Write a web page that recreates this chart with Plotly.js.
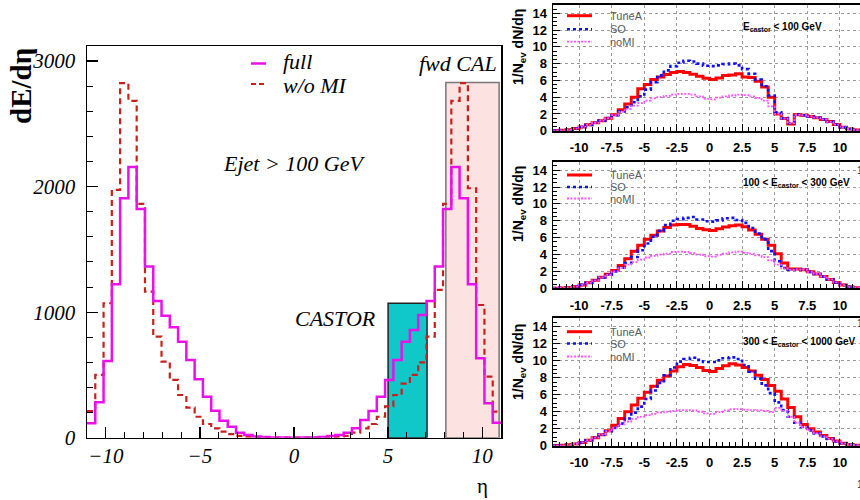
<!DOCTYPE html>
<html><head><meta charset="utf-8">
<script src="https://cdn.plot.ly/plotly-3.0.1.min.js"></script>
<style>html,body{margin:0;padding:0;background:#fff}#chart{width:860px;height:500px}</style>
</head><body><div id="chart"></div>
<script>
// ---------- Left panel: dE/dη, 50 bins from -11 to 11 ----------
const leftEtaMin = -11, leftEtaMax = 11, leftNBins = 50;
const fullE = [115,282,611,1222,1907,2157,1822,1363,1089,972,880,765,619,465,327,215,135,88,40,21,10,5,2,1,0,0,1,2,5,14,22,40,75,141,212,327,460,619,765,858,978,1089,1363,1822,2157,1907,1222,633,274,120];
const woMIE = [212,500,1071,1974,2824,2683,1862,1163,805,606,460,340,239,167,109,75,48,29,15,8,4,2,1,0,0,0,0,1,2,4,8,15,40,75,109,167,249,340,430,500,600,805,1177,1862,2683,2824,1987,1057,486,207];
const castorEta = [5.0, 7.07], castorTop = 1070;
const fwdEta = [8.07, 10.9], fwdTop = 2830;
const leftXTicks = [-10, -5, 0, 5, 10];

// ---------- Right panels: 1/Nev dN/dη, 48 bins of 0.5 from -12 to 12 ----------
const rightEtaMin = -12, rightBinW = 0.5, rightNBins = 48;
const rightXTickVals = [-10,-7.5,-5,-2.5,0,2.5,5,7.5,10];
const rightXTickText = ["-10","-7.5","-5","-2.5","0","2.5","5","7.5","10"];
const tuneA1 = [0.02,0.05,0.1,0.25,0.45,0.7,0.95,1.2,1.5,1.9,2.5,3.2,4.0,5.0,5.5,6.1,6.4,6.7,6.95,7.05,6.95,6.75,6.5,6.25,6.1,6.3,6.6,6.65,6.8,6.4,6.35,5.9,5.2,4.0,2.0,1.45,0.8,1.9,1.85,1.7,1.55,1.35,1.1,0.75,0.4,0.2,0.08,0.02];
const so1    = [0.02,0.05,0.1,0.25,0.45,0.7,0.95,1.2,1.5,1.85,2.3,2.8,3.4,4.1,4.9,5.8,6.6,7.2,7.7,8.1,8.35,8.25,8.0,7.75,7.7,7.8,7.95,8.0,7.8,7.35,6.8,6.1,5.3,4.2,2.2,1.5,0.9,1.95,1.85,1.7,1.55,1.35,1.05,0.72,0.4,0.2,0.08,0.02];
const noMI1  = [0.02,0.05,0.1,0.25,0.45,0.7,0.95,1.2,1.5,1.85,2.25,2.6,3.0,3.3,3.6,3.85,4.0,4.15,4.3,4.4,4.4,4.3,4.1,3.8,3.75,3.95,4.1,4.2,4.3,4.25,4.1,3.9,3.6,2.9,2.0,1.45,0.9,1.9,1.85,1.7,1.55,1.35,1.05,0.72,0.4,0.2,0.08,0.02];
const tuneA2 = [0.02,0.05,0.1,0.2,0.4,0.65,0.95,1.3,1.65,2.1,2.7,3.5,4.4,5.1,5.8,6.3,6.8,7.2,7.5,7.55,7.55,7.35,7.1,6.95,6.85,7.05,7.25,7.4,7.5,7.3,6.9,6.4,5.8,5.1,4.1,3.0,2.3,2.3,2.2,1.95,1.7,1.4,1.05,0.7,0.38,0.18,0.07,0.02];
const so2    = [0.02,0.05,0.1,0.2,0.4,0.65,0.95,1.3,1.6,2.0,2.45,3.0,3.7,4.5,5.3,6.1,6.8,7.5,8.0,8.2,8.35,8.45,8.15,7.95,7.9,8.05,8.3,8.35,8.1,7.75,7.15,6.5,5.8,4.4,3.2,2.4,2.2,2.25,2.2,1.95,1.7,1.4,1.05,0.7,0.38,0.18,0.07,0.02];
const noMI2  = [0.02,0.05,0.1,0.2,0.4,0.65,0.95,1.3,1.6,2.0,2.4,2.8,3.1,3.4,3.65,3.85,4.0,4.1,4.3,4.35,4.3,4.15,4.0,3.8,3.75,3.95,4.1,4.25,4.35,4.2,4.1,3.9,3.7,3.3,2.8,2.35,2.2,2.25,2.2,1.95,1.7,1.4,1.05,0.7,0.38,0.18,0.07,0.02];
const tuneA3 = [0.02,0.05,0.1,0.2,0.38,0.65,0.95,1.3,1.75,2.4,3.2,4.0,4.8,5.6,6.3,7.0,7.7,8.2,8.8,9.3,9.55,9.45,9.2,8.85,8.75,9.1,9.4,9.65,9.5,9.2,8.8,8.3,7.8,7.1,6.4,5.5,4.5,3.4,2.5,2.0,1.6,1.2,0.85,0.55,0.3,0.15,0.06,0.02];
const so3    = [0.02,0.05,0.1,0.2,0.38,0.65,0.95,1.3,1.7,2.1,2.6,3.2,3.9,4.6,5.5,6.5,7.4,8.3,9.2,9.9,10.2,10.35,10.1,9.85,9.85,10.05,10.3,10.4,10.2,9.5,8.7,7.9,7.1,6.2,5.1,4.2,3.4,2.7,2.2,1.8,1.45,1.1,0.8,0.5,0.28,0.14,0.06,0.02];
const noMI3  = [0.02,0.05,0.1,0.2,0.38,0.65,0.95,1.3,1.7,2.1,2.5,2.85,3.15,3.4,3.6,3.75,3.9,4.0,4.1,4.2,4.2,4.15,4.0,3.8,3.75,3.95,4.15,4.3,4.3,4.25,4.2,4.15,4.1,3.95,4.45,4.1,3.4,2.7,2.2,1.8,1.45,1.1,0.8,0.5,0.28,0.14,0.06,0.02];
const panelLabels = ["E<sub>castor</sub> < 100 GeV", "100 < E<sub>castor</sub> < 300 GeV", "300 < E<sub>castor</sub> < 1000 GeV"];
const seriesNames = ["TuneA", "SO", "noMI"];

// ---------- helpers ----------
const W = 860, H = 500;
const X = p => p / W, Y = p => 1 - p / H;
function edges(min, w, n) { const e = []; for (let i = 0; i <= n; i++) e.push(+(min + i * w).toFixed(4)); return e; }
function stepY(v) { return v.concat([v[v.length - 1]]); }
function txt(text, px, py, font, opts) {
  return Object.assign({text: text, x: X(px), y: Y(py), xref: "paper", yref: "paper", xanchor: "center", yanchor: "middle", showarrow: false, font: font}, opts || {});
}

const leftEdges = edges(leftEtaMin, (leftEtaMax - leftEtaMin) / leftNBins, leftNBins);
const rightEdges = edges(rightEtaMin, rightBinW, rightNBins);

const serif = "Liberation Serif, Times New Roman, serif";
const sans = "Liberation Sans, Arial, sans-serif";
const serifIt = {family: serif, size: 22, style: "italic", color: "#000"};

const seriesStyle = [
  {color: "#ff0000", width: 3, dash: "solid"},
  {color: "#1010ff", width: 2.6, dash: "3px,3px"},
  {color: "#ff55ff", width: 1.8, dash: "2px,1.5px"}
];

const traces = [
  {x: leftEdges, y: stepY(woMIE), type: "scatter", mode: "lines", line: {shape: "hv", color: "#c8201c", width: 2.2, dash: "6px,4px"}, xaxis: "x", yaxis: "y", name: "w/o MI", showlegend: false, hoverinfo: "skip"},
  {x: leftEdges, y: stepY(fullE), type: "scatter", mode: "lines", line: {shape: "hv", color: "#ea10ea", width: 2.5}, xaxis: "x", yaxis: "y", name: "full", showlegend: false, hoverinfo: "skip"}
];
const panels = [[tuneA1, so1, noMI1], [tuneA2, so2, noMI2], [tuneA3, so3, noMI3]];
panels.forEach((ser, pi) => {
  ser.forEach((vals, si) => {
    traces.push({x: rightEdges, y: stepY(vals), type: "scatter", mode: "lines",
      line: Object.assign({shape: "hv"}, seriesStyle[si]),
      xaxis: "x" + (pi + 2), yaxis: "y" + (pi + 2), name: seriesNames[si], showlegend: false, hoverinfo: "skip"});
  });
});

// panel pixel geometry (top, bottom of plot area)
const rightPanelsPx = [[5, 130.7], [161.7, 288.3], [318.3, 445.7]];
const rightLeft = 553;

const layout = {
  width: W, height: H, margin: {l: 0, r: 0, t: 0, b: 0},
  paper_bgcolor: "#fff", plot_bgcolor: "#fff", showlegend: false,
  xaxis: {domain: [X(87), X(501)], anchor: "y", range: [leftEtaMin, leftEtaMax], tickvals: leftXTicks,
    ticks: "inside", ticklen: 11, tickwidth: 1.2, tickcolor: "#000",
    minor: {ticks: "inside", tickmode: "linear", tick0: 0, dtick: 1, ticklen: 6, tickcolor: "#000", tickwidth: 1},
    showline: true, mirror: true, linecolor: "#000", linewidth: 1.5, showgrid: false, zeroline: false,
    tickfont: {family: serif, size: 21, style: "italic", color: "#000"}, ticklabelstandoff: -1},
  yaxis: {domain: [Y(437.7), Y(46)], anchor: "x", range: [0, 3120], tick0: 0, dtick: 1000,
    ticks: "inside", ticklen: 11, tickwidth: 1.2, tickcolor: "#000",
    minor: {ticks: "inside", tickmode: "linear", tick0: 0, dtick: 200, ticklen: 6, tickcolor: "#000", tickwidth: 1},
    showline: true, mirror: true, linecolor: "#000", linewidth: 1.5, showgrid: false, zeroline: false,
    tickfont: {family: serif, size: 21, style: "italic", color: "#000"}, ticklabelstandoff: 6},
  shapes: [
    {type: "rect", xref: "x", yref: "y", x0: fwdEta[0], x1: fwdEta[1], y0: 0, y1: fwdTop, fillcolor: "#fde2e2", line: {color: "#777", width: 1.5}, layer: "below"},
    {type: "rect", xref: "x", yref: "y", x0: castorEta[0], x1: castorEta[1], y0: 0, y1: castorTop, fillcolor: "#10c8c8", line: {color: "#222", width: 1.5}, layer: "below"},
    // left legend samples
    {type: "line", xref: "paper", yref: "paper", x0: X(251), x1: X(266), y0: Y(63.5), y1: Y(63.5), line: {color: "#ea10ea", width: 2.5}},
    {type: "line", xref: "paper", yref: "paper", x0: X(251), x1: X(266), y0: Y(84), y1: Y(84), line: {color: "#c8201c", width: 2.2, dash: "5px,3px"}}
  ],
  annotations: [
    txt("<b>dE/dη</b>", 21, 86, {family: serif, size: 29, color: "#000"}, {textangle: -90}),
    txt("full", 281, 61, serifIt, {xanchor: "left"}),
    txt("w/o MI", 281, 85, serifIt, {xanchor: "left"}),
    txt("fwd CAL", 458, 63, serifIt),
    txt("Ejet > 100 GeV", 294, 163, serifIt),
    txt("CASTOR", 335, 318, serifIt),
    txt("η", 482, 486, {family: serif, size: 21, color: "#000"})
  ]
};

rightPanelsPx.forEach((pp, pi) => {
  const n = pi + 2, top = pp[0], bot = pp[1];
  layout["xaxis" + n] = {domain: [X(rightLeft), 1], anchor: "y" + n, range: [rightEtaMin, 11.54],
    tickmode: "array", tickvals: rightXTickVals, ticktext: rightXTickText,
    ticks: "inside", ticklen: 7, tickcolor: "#000", tickwidth: 1,
    minor: {ticks: "inside", tickmode: "linear", tick0: 0, dtick: 0.5, ticklen: 4, tickcolor: "#000", showgrid: false},
    showgrid: true, gridcolor: "#9a9a9a", griddash: "dot", gridwidth: 1,
    showline: true, mirror: true, linecolor: "#000", linewidth: 2, zeroline: false,
    tickfont: {family: sans, size: 13, weight: "bold", color: "#000"}, ticklabelstandoff: 4};
  layout["yaxis" + n] = {domain: [Y(bot), Y(top)], anchor: "x" + n, range: [0, 15], tick0: 0, dtick: 2,
    ticks: "inside", ticklen: 7, tickcolor: "#000", tickwidth: 1,
    minor: {ticks: "inside", tickmode: "linear", tick0: 0, dtick: 0.5, ticklen: 4, tickcolor: "#000", showgrid: false},
    showgrid: true, gridcolor: "#9a9a9a", griddash: "dot", gridwidth: 1,
    showline: true, mirror: true, linecolor: "#000", linewidth: 1.5, zeroline: false,
    tickfont: {family: sans, size: 13, weight: "bold", color: "#000"}, ticklabelstandoff: 2};
});

// right panel decorations: y title, legend, energy labels
const legendRowsPx = [[15.7, 29.3, 41.7], [175, 187, 198.5], [331.7, 343.5, 356.5]];
const yTitleCenters = [47, 204, 362];
const eLabelY = [26.7, 183, 341.7];
[0, 1, 2].forEach(pi => {
  layout.annotations.push(txt("<b>1/N<sub>ev</sub> dN/dη</b>", 519, yTitleCenters[pi], {family: sans, size: 14, color: "#000"}, {textangle: -90}));
  layout.annotations.push(txt("<b>" + panelLabels[pi] + "</b>", 741, eLabelY[pi], {family: sans, size: 10, color: "#000"}, {xanchor: "left"}));
  seriesNames.forEach((nm, si) => {
    const yy = legendRowsPx[pi][si];
    layout.shapes.push({type: "line", xref: "paper", yref: "paper", x0: X(567), x1: X(592), y0: Y(yy), y1: Y(yy), line: seriesStyle[si]});
    layout.annotations.push(txt(nm, 608, yy, {family: sans, size: 11, color: "#5a5a5a"}, {xanchor: "left"}));
  });
});
// labels clipped at the right edge in the reference
[[855, 170], [855, 323], [855, 484]].forEach(p => layout.annotations.push(txt("1", p[0], p[1], {family: sans, size: 10, color: "#333"}, {xanchor: "left"})));

Plotly.newPlot("chart", traces, layout, {staticPlot: true, displayModeBar: false});
</script></body></html>
